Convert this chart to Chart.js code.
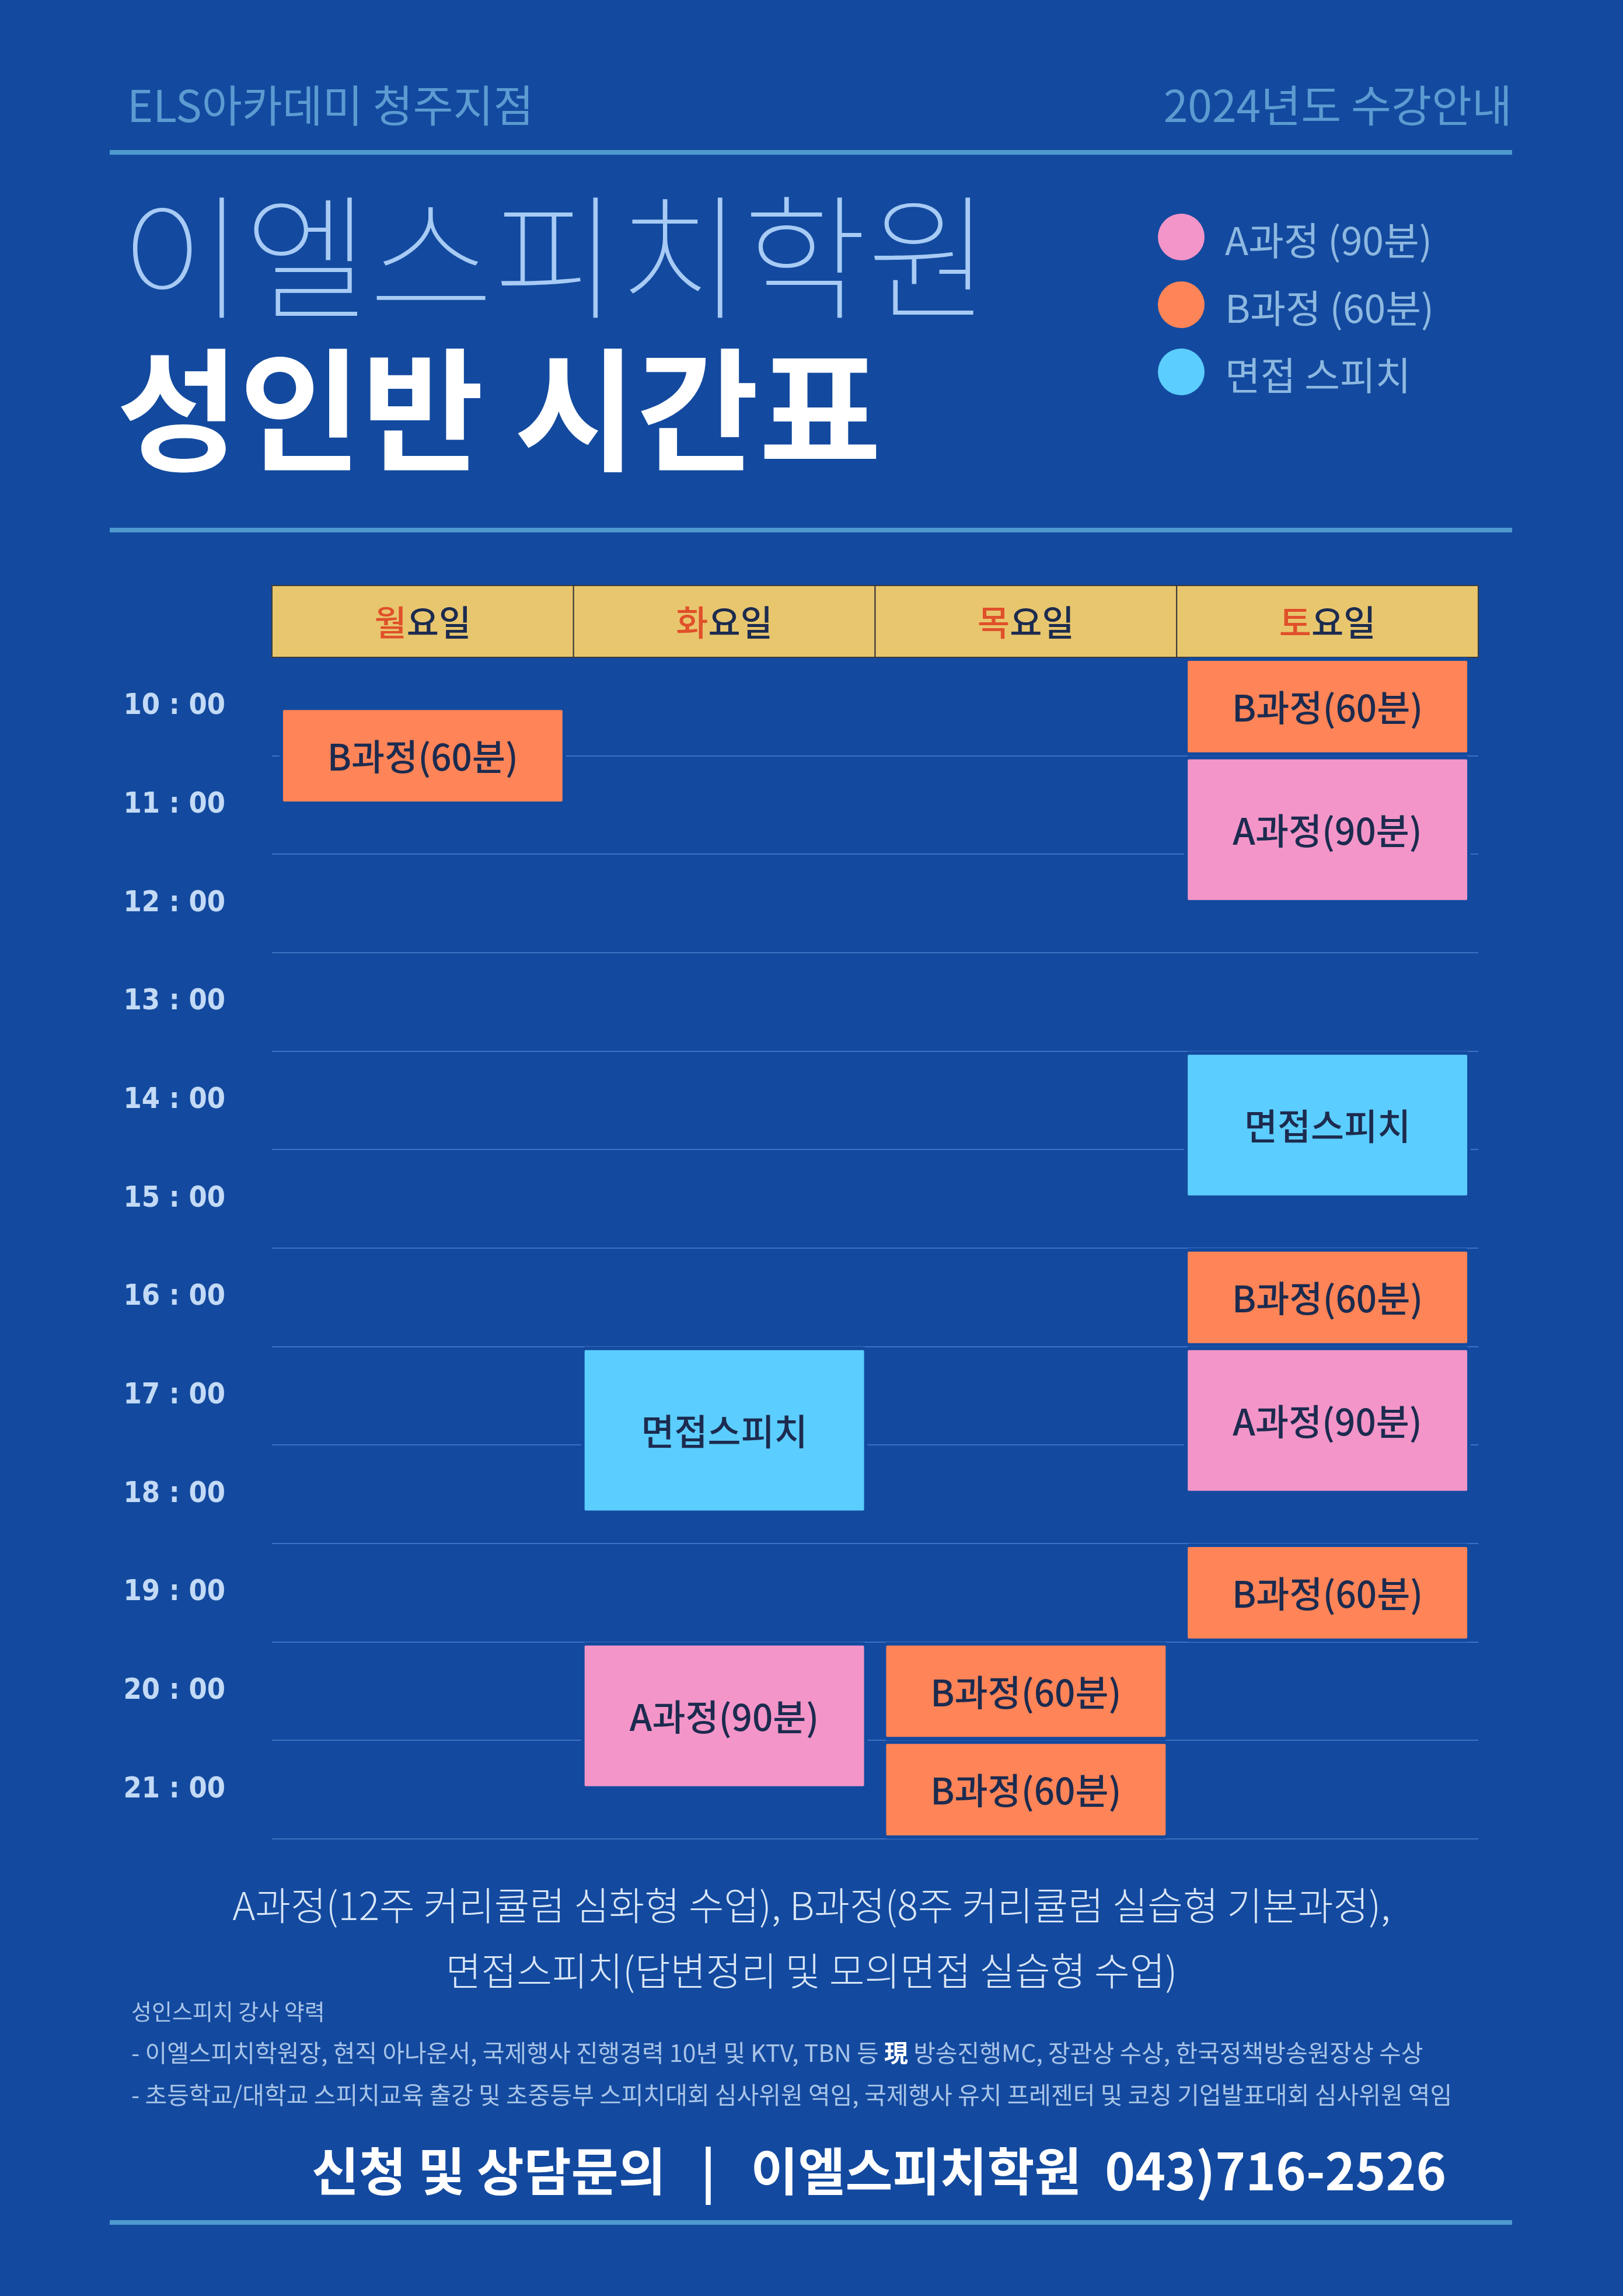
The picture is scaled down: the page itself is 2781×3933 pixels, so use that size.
<!DOCTYPE html>
<html><head><meta charset="utf-8">
<script src="https://cdn.jsdelivr.net/npm/chart.js@4/dist/chart.umd.min.js"></script>
<style>
html,body{margin:0;padding:0;background:#134A9F;}
#wrap{position:relative;width:2781px;height:3933px;overflow:hidden;background:#134A9F;font-family:"Noto Sans CJK KR","Noto Sans",sans-serif;}
.t{position:absolute;white-space:nowrap;}
.line{position:absolute;left:188px;width:2403px;height:8px;background:#4E9ACF;}
.dot{position:absolute;width:80px;height:80px;border-radius:50%;}
canvas{position:absolute;left:0;top:0;}
</style></head><body>
<div id="wrap">
<div class="t" style="left:218px;top:122px;font-size:75px;color:#5C9BD1;">ELS아카데미 청주지점</div>
<div class="t" style="right:190px;top:122px;font-size:75px;color:#5C9BD1;">2024년도 수강안내</div>
<div class="line" style="top:257px"></div>
<div class="t" style="left:205px;top:300px;font-size:232px;font-weight:100;color:#A7CBF5;line-height:1.1;">이엘스피치학원</div>
<div class="t" style="left:200px;top:565px;font-size:228px;font-weight:700;color:#FFFFFF;line-height:1.1;">성인반 시간표</div>
<div class="dot" style="left:1984px;top:366px;background:#F395C8"></div>
<div class="dot" style="left:1984px;top:482px;background:#FF8457"></div>
<div class="dot" style="left:1984px;top:597px;background:#5BCDFE"></div>
<div class="t" style="left:2099px;top:360px;font-size:66px;color:#8DB8E0;">A과정 (90분)</div>
<div class="t" style="left:2099px;top:476px;font-size:66px;color:#8DB8E0;">B과정 (60분)</div>
<div class="t" style="left:2099px;top:591px;font-size:66px;color:#8DB8E0;">면접 스피치</div>
<div class="line" style="top:904px"></div>
<canvas id="c" width="2781" height="3933"></canvas>
<div class="t" style="left:0;width:2781px;text-align:center;top:3212px;font-size:66px;font-weight:300;color:#D9E6F7;">A과정(12주 커리큘럼 심화형 수업), B과정(8주 커리큘럼 실습형 기본과정),</div>
<div class="t" style="left:0;width:2781px;text-align:center;top:3324px;font-size:66px;font-weight:300;color:#D9E6F7;">면접스피치(답변정리 및 모의면접 실습형 수업)</div>
<div class="t" style="left:225px;top:3416px;font-size:38px;color:#A9C4E8;">성인스피치 강사 약력</div>
<div class="t" style="left:225px;top:3484px;font-size:41px;color:#A9C4E8;">- 이엘스피치학원장, 현직 아나운서, 국제행사 진행경력 10년 및 KTV, TBN 등 <b style="color:#fff">現</b> 방송진행MC, 장관상 수상, 한국정책방송원장상 수상</div>
<div class="t" style="left:225px;top:3556px;font-size:41px;color:#A9C4E8;">- 초등학교/대학교 스피치교육 출강 및 초중등부 스피치대회 심사위원 역임, 국제행사 유치 프레젠터 및 코칭 기업발표대회 심사위원 역임</div>
<div class="t" style="left:534px;top:3650px;font-size:88px;font-weight:700;color:#FFFFFF;">신청 및 상담문의 &nbsp;&nbsp;|&nbsp;&nbsp; 이엘스피치학원 &nbsp;043)716-2526</div>
<div class="line" style="top:3803px"></div>
</div>
<script>
const days = ['월요일','화요일','목요일','토요일'];
const hours = [10,11,12,13,14,15,16,17,18,19,20,21];
const aDays = ['토요일','토요일','화요일'];
const aTimes = [[11,12.5],[17,18.5],[20,21.5]];
const bDays = ['월요일','토요일','토요일','토요일','목요일','목요일'];
const bTimes = [[10.5,11.5],[10,11],[16,17],[19,20],[20,21],[21,22]];
const iDays = ['토요일','화요일'];
const iTimes = [[14,15.5],[17,18.7]];
const BG='#134A9F';
function mk(label,ds,ts,color){
  return {label, data: ds.map((d,i)=>({x:d,y:ts[i]})), backgroundColor:color,
    borderColor:BG, borderWidth:6, borderSkipped:false, borderRadius:8,
    barPercentage:0.95, categoryPercentage:1, grouped:false};
}
const headerPlugin={id:'hdr',
  beforeDraw(ch){
    const ctx=ch.ctx, x=ch.scales.x, a=ch.chartArea;
    const w=(a.right-a.left)/days.length, top=1003, h=a.top-top;
    ctx.save();
    days.forEach((d,i)=>{
      const cx=x.getPixelForValue(i), l=cx-w/2;
      ctx.fillStyle='#E8C66E'; ctx.fillRect(l,top,w,h);
      ctx.strokeStyle='#3B3B3B'; ctx.lineWidth=2; ctx.strokeRect(l,top,w,h);
      ctx.font='500 60px "Noto Sans CJK KR"'; ctx.textBaseline='middle';
      const f=d[0], r=d.slice(1);
      const fw=ctx.measureText(f).width, rw=ctx.measureText(r).width;
      let sx=cx-(fw+rw)/2;
      ctx.textAlign='left';
      ctx.fillStyle='#E0502A'; ctx.fillText(f,sx,top+h/2+2);
      ctx.fillStyle='#1C2B4F'; ctx.fillText(r,sx+fw,top+h/2+2);
    });
    ctx.restore();
  },
  afterDatasetsDraw(ch){
    const ctx=ch.ctx;
    ctx.save();
    ctx.font='500 62px "Noto Sans CJK KR"'; ctx.fillStyle='#1C2B4F';
    ctx.textAlign='center'; ctx.textBaseline='middle';
    ch.data.datasets.forEach((ds,di)=>{
      ch.getDatasetMeta(di).data.forEach(el=>{
        const p=el.getProps(['x','y','base'],true);
        ctx.fillText(ds.label,p.x,(p.y+p.base)/2+2);
      });
    });
    ctx.restore();
  }
};
new Chart(document.getElementById('c'),{
  type:'bar',
  data:{labels:days,datasets:[
    mk('B과정(60분)',bDays,bTimes,'#FF8457'),
    mk('A과정(90분)',aDays,aTimes,'#F395C8'),
    mk('면접스피치',iDays,iTimes,'#5BCDFE')]},
  options:{responsive:false,animation:false,
    layout:{padding:{left:0,top:1126,right:248,bottom:783}},
    plugins:{legend:{display:false},tooltip:{enabled:false}},
    scales:{
      x:{display:false},
      y:{min:10,max:22,reverse:true,position:'left',
        ticks:{display:false,stepSize:1},
        grid:{color:(c)=>c.tick.value===10?'rgba(0,0,0,0)':'#3F70C2',lineWidth:2,drawTicks:false},
        border:{display:false},
        afterFit(s){s.width=0;}},
      y2:{min:10,max:22,reverse:true,position:'left',
        afterBuildTicks(s){s.ticks=hours.map(h=>({value:h+0.5}));},
        ticks:{callback:(v)=>String(Math.floor(v))+' : 00',color:'#C3DAF6',
          font:{family:'"DejaVu Sans Condensed","Liberation Sans Narrow",sans-serif',size:50,weight:'bold'},
          crossAlign:'near',padding:72},
        grid:{display:false},border:{display:false},
        afterFit(s){s.width=466;}}
    }},
  plugins:[headerPlugin]
});
</script>
</body></html>
